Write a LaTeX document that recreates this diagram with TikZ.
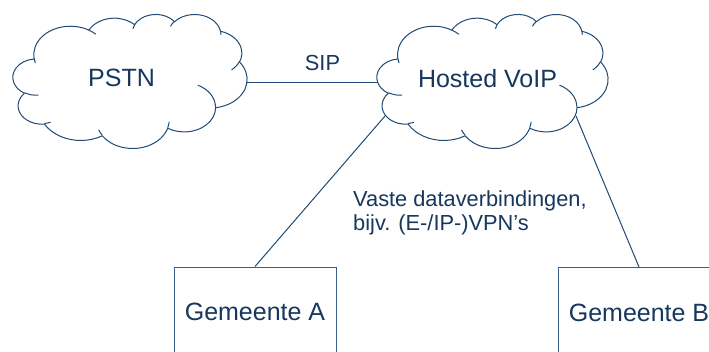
\documentclass[tikz,border=0pt]{standalone}
\usepackage{fontspec}
\setmainfont{Liberation Sans}
\definecolor{txtblue}{HTML}{17375E}
\definecolor{lnblue}{HTML}{1F4A73}
\definecolor{boxblue}{HTML}{385D8A}
\newcommand\CLpath{}
\newcommand\CLhooks{}
\newcommand\CLcalc[4]{%
  \pgfmathsetmacro\CLts{atan2((#1)*sin(#3),(#2)*cos(#3))}%
  \pgfmathsetmacro\CLte{atan2((#1)*sin((#3)+(#4)),(#2)*cos((#3)+(#4)))}%
  \pgfmathsetmacro\CLte{\CLte+360*(\CLte<\CLts)}%
}
\newcommand\CLarc[4]{\CLcalc{#1}{#2}{#3}{#4}%
  \xdef\CLpath{\CLpath arc[start angle=\CLts,end angle=\CLte,x radius=#1,y radius=#2]}}
\newcommand\CLhook[6]{\CLcalc{#3}{#4}{#5}{#6}%
  \xdef\CLhooks{\CLhooks (#1,#2) arc[start angle=\CLts,end angle=\CLte,x radius=#3,y radius=#4]}}
\begin{document}
\begin{tikzpicture}[x=1pt,y=-1pt,
  cloudline/.style={draw=lnblue,line width=1pt,line join=round},
  conn/.style={draw=lnblue,line width=1pt},
  bigtxt/.style={text=txtblue,font=\fontsize{25}{30}\selectfont,inner sep=0pt},
  smalltxt/.style={text=txtblue,font=\fontsize{21.8}{24.4}\selectfont,inner sep=0pt,align=left},
  gembox/.style={draw=boxblue,line width=1pt,minimum width=162pt,minimum height=90pt,inner sep=0pt,text=txtblue,font=\fontsize{25}{30}\selectfont}]
\CLarc{67.53}{91.90}{-190.4875}{123.7805}
\CLarc{53.33}{72.67}{-144.1024}{89.9452}
\CLarc{43.65}{59.45}{-145.8079}{99.7230}
\CLarc{48.57}{65.95}{-130.9861}{117.2417}
\CLarc{53.33}{72.73}{-78.7089}{109.0269}
\CLarc{67.75}{92.20}{-46.2673}{130.2690}
\CLarc{57.85}{78.67}{0.6250}{114.0333}
\CLarc{67.52}{92.15}{22.4516}{115.1726}
\CLarc{77.20}{105.43}{66.2426}{75.7110}
\CLarc{43.60}{59.18}{-274.9421}{146.7356}
\CLarc{43.45}{59.45}{-246.8285}{152.5189}
\CLhook{46.93}{261.77}{43.45}{59.45}{86.7420}{26.4295}
\CLhook{69.28}{348.99}{43.60}{59.18}{73.6105}{11.4475}
\CLhook{164.78}{390.90}{67.52}{92.15}{137.6242}{14.0811}
\CLhook{288.27}{347.51}{67.52}{92.15}{6.4533}{15.9984}
\CLhook{341.29}{229.54}{57.85}{78.67}{-70.2924}{70.9174}
\CLhook{417.98}{153.54}{53.33}{72.73}{30.3180}{27.7515}
\CLhook{383.24}{54.26}{48.57}{65.95}{-13.7443}{14.8589}
\CLhook{290.78}{39.52}{48.57}{65.95}{-149.1815}{18.1954}
\CLhook{221.41}{47.20}{43.65}{59.45}{-163.4943}{17.6864}
\CLhook{140.00}{51.92}{67.53}{91.90}{-66.7070}{12.3194}
\CLhook{41.27}{157.89}{67.53}{91.90}{157.6544}{11.8582}
\useasboundingbox (0,0) rectangle (709,351);
\fill[white] (0,0) rectangle (709,351);
\clip (0,0) rectangle (709,351);
% PSTN cloud
\begin{scope}[shift={(13pt,-14pt)},x=0.54167pt,y=-0.31019pt]
  \draw[cloudline] (39.00,143.70) \CLpath -- cycle;
  \draw[cloudline] \CLhooks;
\end{scope}
% Hosted VoIP cloud
\begin{scope}[shift={(377pt,-14pt)},x=0.53472pt,y=-0.31019pt]
  \draw[cloudline] (39.00,143.70) \CLpath -- cycle;
  \draw[cloudline] \CLhooks;
\end{scope}
\node[bigtxt] (pstn) at (121.5,78) {PSTN};
\node[bigtxt] (voip) at (487.5,79) {Hosted VoIP};
\node[bigtxt,font=\fontsize{21.8}{24.4}\selectfont] (sip) at (322.5,63) {SIP};
\node[smalltxt,anchor=north west] (vaste) at (353,190.5) {Vaste dataverbindingen,\\bijv. (E-/IP-)VPN’s};
\node[gembox] (gemA) at (255,312) {Gemeente A};
\node[gembox] (gemB) at (639,312.5) {Gemeente B};
\coordinate (pstnE) at (246,82);
\coordinate (voipW) at (377,82);
\coordinate (voipSW) at (385,116);
\coordinate (voipSE) at (576,116);
\draw[conn] (pstnE) -- (voipW);
\draw[conn] (voipSW) -- (gemA.north);
\draw[conn] (voipSE) -- (gemB.north);
\end{tikzpicture}
\end{document}
